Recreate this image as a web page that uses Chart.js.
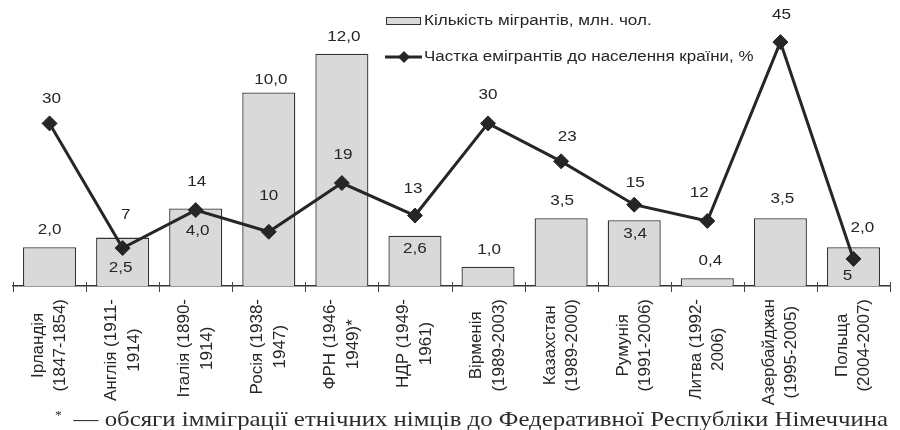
<!DOCTYPE html>
<html>
<head>
<meta charset="utf-8">
<script src="https://cdn.jsdelivr.net/npm/chart.js@4.4.1/dist/chart.umd.min.js"></script>
<style>
html,body{margin:0;padding:0;background:#fff;}
#wrap{position:relative;width:900px;height:430px;overflow:hidden;}
#c{position:absolute;left:0;top:0;}
#note{position:absolute;left:55px;top:404px;font-family:"Liberation Serif","Times New Roman",serif;font-size:22px;line-height:22px;color:#2b2b2b;white-space:nowrap;transform-origin:0 0;}
#note sup{font-size:12px;vertical-align:7px;margin-right:5px;}
</style>
</head>
<body>
<div id="wrap">
<canvas id="c" width="900" height="430"></canvas>
<div id="note"><span id="noteText"><sup>*</sup> — обсяги імміграції етнічних німців до Федеративної Республіки Німеччина</span></div>
</div>
<script>
// ---- data ----
const categories = [
  ['Ірландія', '(1847-1854)'],
  ['Англія (1911-', '1914)'],
  ['Італія (1890-', '1914)'],
  ['Росія (1938-', '1947)'],
  ['ФРН (1946-', '1949)*'],
  ['НДР (1949-', '1961)'],
  ['Вірменія', '(1989-2003)'],
  ['Казахстан', '(1989-2000)'],
  ['Румунія', '(1991-2006)'],
  ['Литва (1992-', '2006)'],
  ['Азербайджан', '(1995-2005)'],
  ['Польща', '(2004-2007)']
];
const migrantsMln = [2.0, 2.5, 4.0, 10.0, 12.0, 2.6, 1.0, 3.5, 3.4, 0.4, 3.5, 2.0];
const emigrantSharePct = [30, 7, 14, 10, 19, 13, 30, 23, 15, 12, 45, 5];
const seriesNames = ['Кількість мігрантів, млн. чол.', 'Частка емігрантів до населення країни, %'];

// ---- label placement (style only): [dx, dy] from the mark ----
const barLabelPlace = [[0,-17],[-2,31],[2,23],[2,-12],[2,-17],[0,13],[1,-17],[1,-17],[1,14],[3,-17],[2,-19],[9,-19]];
const lineLabelPlace = [[2,-24],[3,-33],[1,-28],[0,-36],[1,-28],[-2,-26],[0,-28],[6,-24],[1,-22],[-8,-28],[1,-27],[-6,17]];

const INK = '#262626';
const BAR_FILL = '#d9d9d9';
const BAR_EDGE = '#333333';
const SANS = '"Liberation Sans", Arial, sans-serif';
const SX = 1.22;

function stretchedText(ctx, text, x, y, sx, align) {
  ctx.save();
  ctx.translate(x, y);
  ctx.scale(sx, 1);
  ctx.textAlign = align || 'center';
  ctx.textBaseline = 'middle';
  ctx.fillText(text, 0, 0);
  ctx.restore();
}

const decorPlugin = {
  id: 'decor',
  afterDatasetsDraw(chart) {
    const ctx = chart.ctx;
    const xs = chart.scales.x;
    const area = chart.chartArea;
    const n = categories.length;
    const band = (area.right - area.left) / n;
    // axis tick marks between categories
    ctx.save();
    ctx.strokeStyle = '#444';
    ctx.lineWidth = 1;
    for (let i = 0; i <= n; i++) {
      const x = Math.round(area.left + band * i) + 0.5;
      ctx.beginPath();
      ctx.moveTo(x, area.bottom - 4);
      ctx.lineTo(x, area.bottom + 6);
      ctx.stroke();
    }
    ctx.restore();

    // data labels
    ctx.save();
    ctx.fillStyle = INK;
    ctx.font = '14px ' + SANS;
    const barMeta = chart.getDatasetMeta(1);
    barMeta.data.forEach((el, i) => {
      const p = barLabelPlace[i];
      const txt = migrantsMln[i].toFixed(1).replace('.', ',');
      stretchedText(ctx, txt, el.x + p[0], el.y + p[1], SX);
    });
    const lineMeta = chart.getDatasetMeta(0);
    lineMeta.data.forEach((el, i) => {
      const p = lineLabelPlace[i];
      stretchedText(ctx, String(emigrantSharePct[i]), el.x + p[0], el.y + p[1], SX);
    });
    ctx.restore();

    // category labels, rotated, lines centred in their block
    ctx.save();
    ctx.fillStyle = INK;
    ctx.font = '17px ' + SANS;
    const y0 = area.bottom + 13;
    const gap = 22.5;
    categories.forEach((lines, i) => {
      const xc = xs.getPixelForValue(i);
      let w = 0;
      lines.forEach(l => { w = Math.max(w, ctx.measureText(l).width); });
      lines.forEach((l, j) => {
        const dx = (j - (lines.length - 1) / 2) * gap;
        ctx.save();
        ctx.translate(xc + dx, y0 + w / 2);
        ctx.rotate(-Math.PI / 2);
        ctx.textAlign = 'center';
        ctx.textBaseline = 'middle';
        ctx.fillText(l, 0, 0);
        ctx.restore();
      });
    });
    ctx.restore();

    // legend
    ctx.save();
    ctx.fillStyle = BAR_FILL;
    ctx.strokeStyle = BAR_EDGE;
    ctx.lineWidth = 1;
    ctx.fillRect(386, 17, 35, 8);
    ctx.strokeRect(386.5, 17.5, 34, 7);
    ctx.strokeStyle = INK;
    ctx.lineWidth = 3;
    ctx.beginPath();
    ctx.moveTo(385, 57);
    ctx.lineTo(422, 57);
    ctx.stroke();
    ctx.fillStyle = INK;
    ctx.beginPath();
    ctx.moveTo(398, 57); ctx.lineTo(404, 51); ctx.lineTo(410, 57); ctx.lineTo(404, 63);
    ctx.closePath();
    ctx.fill();
    ctx.font = '14px ' + SANS;
    stretchedText(ctx, seriesNames[0], 424, 21, 1.22, 'left');
    stretchedText(ctx, seriesNames[1], 424, 57, 1.21, 'left');
    ctx.restore();
  }
};

new Chart(document.getElementById('c'), {
  data: {
    labels: categories,
    datasets: [
      {
        type: 'line',
        label: seriesNames[1],
        data: emigrantSharePct,
        yAxisID: 'y1',
        order: 0,
        borderColor: INK,
        borderWidth: 3,
        tension: 0,
        pointStyle: 'rectRot',
        pointRadius: 7.5,
        pointHoverRadius: 7.5,
        pointBackgroundColor: INK,
        pointBorderColor: INK,
        pointBorderWidth: 1
      },
      {
        type: 'bar',
        label: seriesNames[0],
        data: migrantsMln,
        yAxisID: 'y',
        order: 1,
        backgroundColor: BAR_FILL,
        borderColor: BAR_EDGE,
        borderWidth: 1.3,
        categoryPercentage: 1,
        barPercentage: 0.726
      }
    ]
  },
  options: {
    responsive: false,
    animation: false,
    events: [],
    layout: { padding: { left: 13, right: 10, top: 15, bottom: 144 } },
    plugins: { legend: { display: false }, tooltip: { enabled: false } },
    scales: {
      x: {
        type: 'category',
        offset: true,
        grid: { display: false, drawTicks: false, tickLength: 0 },
        ticks: { display: false, padding: 0 },
        border: { display: true, color: '#333', width: 1.5 }
      },
      y: { display: false, min: 0, max: 14 },
      y1: { display: false, min: 0, max: 50, position: 'right' }
    }
  },
  plugins: [decorPlugin]
});

// fit footnote to its span in the reference
(function () {
  const note = document.getElementById('note');
  const w = document.getElementById('noteText').getBoundingClientRect().width;
  const target = 888 - 55;
  note.style.transform = 'scaleX(' + (target / w) + ')';
})();
</script>
</body>
</html>
